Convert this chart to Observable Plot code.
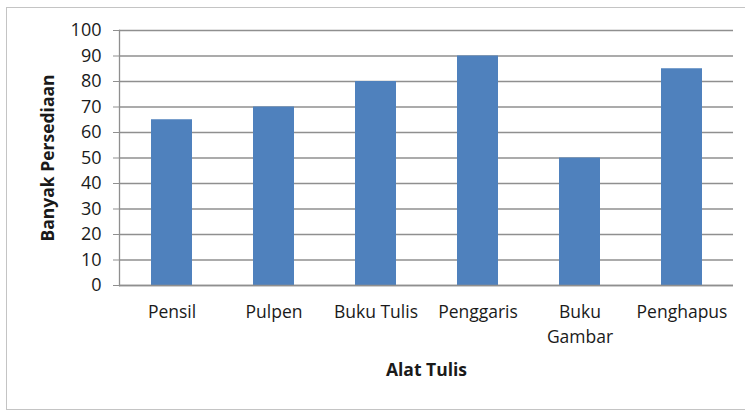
<!DOCTYPE html>
<html>
<head>
<meta charset="utf-8">
<script src="https://cdn.jsdelivr.net/npm/d3@7"></script>
<script src="https://cdn.jsdelivr.net/npm/@observablehq/plot@0.6"></script>
<style>
  html, body { margin: 0; padding: 0; background: #fff; overflow: hidden; }
  #wrap { position: relative; width: 745px; height: 412px; overflow: hidden; }
  #border { position: absolute; left: 6px; top: 7px; width: 760px; height: 401px; border: 1.5px solid #c4c4c4; pointer-events: none; }
</style>
</head>
<body>
<div id="wrap"><div id="border"></div></div>
<script>
const categories = ["Pensil", "Pulpen", "Buku Tulis", "Penggaris", "Buku Gambar", "Penghapus"];
const values = [65, 70, 80, 90, 50, 85];
const yTicks = [0, 10, 20, 30, 40, 50, 60, 70, 80, 90, 100];
const xTitle = "Alat Tulis";
const yTitle = "Banyak Persediaan";

const data = categories.map((c, i) => ({cat: c, value: values[i]}));
const grid = "#8f8f8f";

const chart = Plot.plot({
  width: 745,
  height: 412,
  marginLeft: 119,
  marginRight: 12,
  marginTop: 30,
  marginBottom: 127,
  style: {fontFamily: "'Open Sans', sans-serif", fontSize: "18px", color: "#1a1a1a", background: "transparent"},
  x: {domain: categories, padding: 0.6, paddingOuter: 0.3, label: null},
  y: {domain: [0, 100], label: null},
  marks: [
    Plot.gridY(yTicks, {stroke: grid, strokeOpacity: 1, strokeWidth: 1.3}),
    Plot.barY(data, {x: "cat", y: "value", fill: "#4f81bd"}),
    Plot.frame({anchor: "left", stroke: grid, strokeWidth: 1.3}),
    Plot.axisY(yTicks, {tickSize: 6, tickPadding: 12, stroke: grid, fontSize: 18, label: null}),
    Plot.ruleY([0], {stroke: grid, strokeWidth: 1.3}),
    Plot.axisX({tickSize: 0, tickPadding: 15, fontSize: 17.5, lineHeight: 1.42, label: null,
      tickFormat: d => d === "Buku Gambar" ? "Buku\nGambar" : d}),
    Plot.text([xTitle], {frameAnchor: "bottom", dy: 85, lineAnchor: "middle", fontWeight: "bold", fontSize: 17.5}),
    Plot.text([yTitle], {frameAnchor: "left", textAnchor: "middle", rotate: -90, dx: -71, fontWeight: "bold", fontSize: 17.5})
  ]
});
document.getElementById("wrap").prepend(chart);
</script>
</body>
</html>
